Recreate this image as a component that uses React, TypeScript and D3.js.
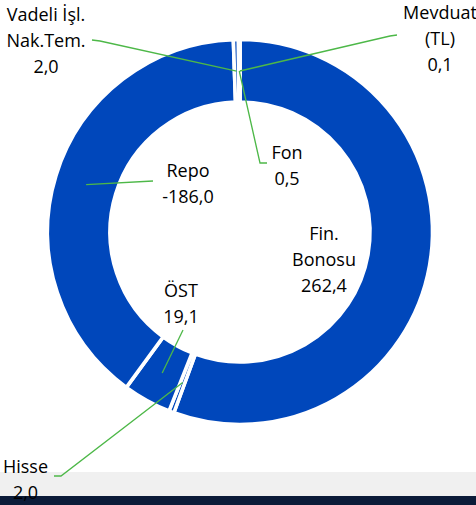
import * as React from 'react'
import * as d3 from 'd3'

const W = 476
const H = 505
const CX = 240
const CY = 232
const OUTER_R = 192.5
const INNER_R = 130
const LEADER_R = 161
const LINE_H = 26

const BLUE = '#0047bb'
const LEADER = '#4db848'

// data (clockwise from 12 o'clock)
const categories = ['Fin. Bonosu', 'Hisse', 'ÖST', 'Repo', 'Vadeli İşl. Nak.Tem.', 'Fon', 'Mevduat (TL)']
const values = [262.4, 2.0, 19.1, -186.0, 2.0, 0.5, 0.1]
const labelLines = [['Fin.', 'Bonosu'], ['Hisse'], ['ÖST'], ['Repo'], ['Vadeli İşl.', 'Nak.Tem.'], ['Fon'], ['Mevduat', '(TL)']]

// label layout: center x, first baseline, leader start points (label side)
const labelPos: { x: number; y: number; leader: [number, number][] }[] = [
  { x: 324, y: 240, leader: [] },
  { x: 25.5, y: 473, leader: [[54, 476], [61, 476]] },
  { x: 181, y: 297, leader: [[183, 330]] },
  { x: 188, y: 177, leader: [[153, 181]] },
  { x: 46, y: 20.5, leader: [[92, 40], [100, 41]] },
  { x: 287, y: 159, leader: [[267, 163], [260, 163]] },
  { x: 440, y: 19, leader: [[397, 35], [390, 36]] }
]

const fmt = (v: number) => v.toFixed(1).replace('.', ',')

export default function App() {
  const rows = categories.map((c, i) => ({ name: c, value: values[i], i }))
  const pie = d3
    .pie<{ name: string; value: number; i: number }>()
    .value(d => Math.abs(d.value))
    .sort(null)
  const arcs = pie(rows)
  const arc = d3
    .arc<d3.PieArcDatum<{ name: string; value: number; i: number }>>()
    .innerRadius(INNER_R)
    .outerRadius(OUTER_R)
  const midArc = d3
    .arc<d3.PieArcDatum<{ name: string; value: number; i: number }>>()
    .innerRadius(LEADER_R)
    .outerRadius(LEADER_R)
  const line = d3.line()

  return (
    <svg
      width={W}
      height={H}
      style={{ position: 'absolute', left: 0, top: 0 }}
      fontFamily="'Open Sans', sans-serif"
    >
      <rect x={0} y={0} width={W} height={H} fill="#ffffff" />
      <rect x={0} y={472} width={W} height={24} fill="#f0f0f0" />
      <rect x={0} y={496} width={W} height={9} fill="#0b1b38" />
      <g transform={`translate(${CX},${CY})`}>
        {arcs.map(a => (
          <path key={a.data.name} d={arc(a) || ''} fill={BLUE} stroke="#ffffff" strokeWidth={3.6} />
        ))}
      </g>
      {arcs.map(a => {
        const p = labelPos[a.data.i]
        if (!p.leader.length) return null
        const [mx, my] = midArc.centroid(a)
        const pts: [number, number][] = [...p.leader, [CX + mx, CY + my]]
        return (
          <path key={'l' + a.data.name} d={line(pts) || ''} fill="none" stroke={LEADER} strokeWidth={1.3} />
        )
      })}
      {arcs.map(a => {
        const p = labelPos[a.data.i]
        const lines = [...labelLines[a.data.i], fmt(a.data.value)]
        return (
          <text key={'t' + a.data.name} x={p.x} y={p.y} textAnchor="middle" fontSize={18} fill="#000000">
            {lines.map((s, k) => (
              <tspan key={k} x={p.x} y={p.y + k * LINE_H}>
                {s}
              </tspan>
            ))}
          </text>
        )
      })}
    </svg>
  )
}
